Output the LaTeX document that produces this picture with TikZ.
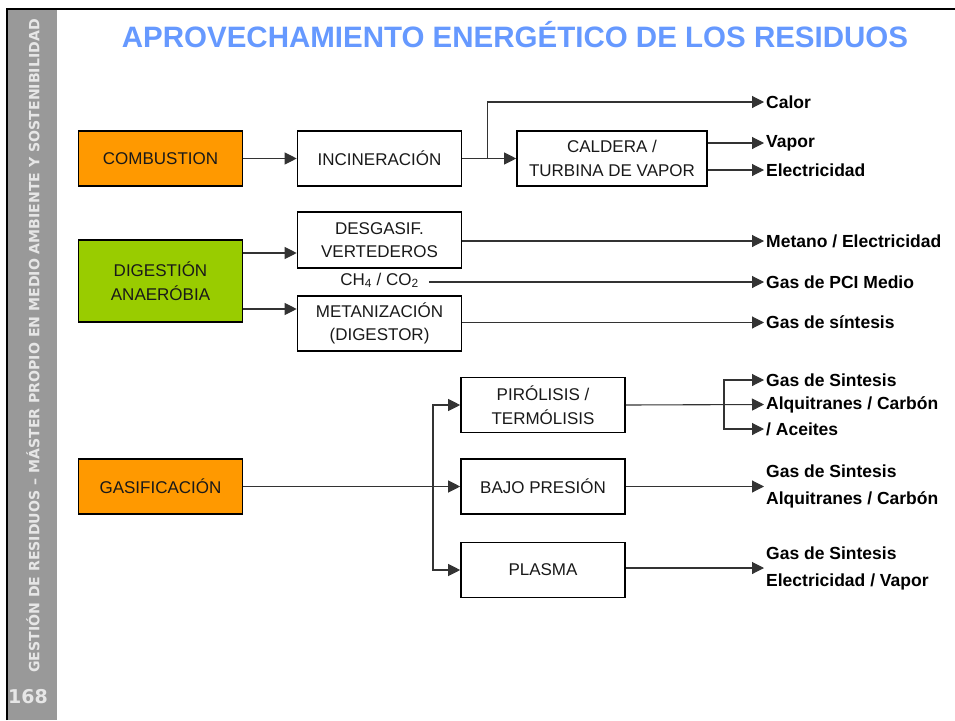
\documentclass[tikz,border=0pt]{standalone}
\usepackage{fontspec}
\setmainfont{Liberation Sans}
\newfontfamily\sidefont{DejaVu Sans}
\usetikzlibrary{arrows.meta}
\definecolor{titleblue}{RGB}{102,153,255}
\definecolor{burnorange}{RGB}{255,153,0}
\definecolor{digestgreen}{RGB}{153,204,0}
\definecolor{sidegray}{RGB}{153,153,153}
\definecolor{sidetext}{RGB}{230,230,230}

\begin{document}
\begin{tikzpicture}[x=1pt,y=-1pt,
  box/.style={draw=black,line width=1.6pt,minimum width=164pt,minimum height=55pt,inner sep=0pt,align=center,text=black!90,font=\fontsize{17}{23.5}\selectfont},
  source/.style={box,fill=burnorange},
  product/.style={anchor=west,inner sep=2pt,align=left,font=\bfseries\fontsize{17.5}{27}\selectfont},
  arrow/.style={-{Triangle[length=12pt,width=12pt]},line width=1.1pt,draw=black!80}
]
\useasboundingbox (0,0) rectangle (955,720);
% side band and frame
\fill[sidegray] (8,10) rectangle (57,720);
\draw[line width=2.5pt] (7,720) -- (7,9) -- (955,9);
\node[rotate=90,text=sidetext,font=\sidefont\bfseries\fontsize{14.1}{14}\selectfont] (band) at (33,346) {GESTIÓN DE RESIDUOS – MÁSTER PROPIO EN MEDIO AMBIENTE Y SOSTENIBILIDAD};
\node[text=sidetext,font=\sidefont\bfseries\fontsize{19}{19}\selectfont] (pagenum) at (28,697) {168};
\node[text=titleblue,font=\bfseries\fontsize{29.5}{29.5}\selectfont] (title) at (515,35) {APROVECHAMIENTO ENERGÉTICO DE LOS RESIDUOS};

% combustion
\node[source] (comb) at (160.5,158.5) {COMBUSTION};
\node[box] (incin) at (379.5,158.5) {INCINERACIÓN};
\node[box,minimum width=190pt] (cald) at (612,158.5) {CALDERA /\\TURBINA DE VAPOR};
\node[product] (calor) at (764,102) {Calor};
\node[product] (vapor) at (764,143) {Vapor};
\node[product] (elec) at (764,170) {Electricidad};
\coordinate (split) at (487.5,158.5);
\draw[arrow] (comb) -- (incin);
\draw[arrow] (incin) -- (cald);
\draw[arrow] (split) |- (calor.west);
\draw[arrow] (cald.east |- vapor.west) -- (vapor.west);
\draw[arrow] (cald.east |- elec.west) -- (elec.west);

% digestion
\node[source,fill=digestgreen,minimum height=82pt] (dig) at (160.5,281) {DIGESTIÓN\\ANAERÓBIA};
\node[box,minimum height=56pt] (desg) at (379.5,240) {DESGASIF.\\VERTEDEROS};
\node[box] (metan) at (379.5,323.5) {METANIZACIÓN\\(DIGESTOR)};
\node[text=black!90,inner sep=1pt,font=\fontsize{17}{17}\selectfont] (ch4) at (379.5,280.5) {CH\textsubscript{4} / CO\textsubscript{2}};
\node[product] (metano) at (764,241) {Metano / Electricidad};
\node[product] (pci) at (764,282) {Gas de PCI Medio};
\node[product] (sint) at (764,322.5) {Gas de síntesis};
\draw[arrow] ([yshift=-13pt]desg.west -| dig.east) -- ([yshift=-13pt]desg.west);
\draw[arrow] ([yshift=14.5pt]metan.west -| dig.east) -- ([yshift=14.5pt]metan.west);
\draw[arrow] (desg.east |- metano.west) -- (metano.west);
\draw[arrow] ([xshift=9pt]ch4.east |- pci.west) -- (pci.west);
\draw[arrow] (metan.east |- sint.west) -- (sint.west);

% gasification
\node[source] (gasif) at (160.5,486.5) {GASIFICACIÓN};
\node[box] (piro) at (543,405) {PIRÓLISIS /\\TERMÓLISIS};
\node[box] (bajo) at (543,486.5) {BAJO PRESIÓN};
\node[box] (plasma) at (543,570) {PLASMA};
\coordinate (fork) at (433,486.5);
\draw[arrow] (gasif) -- (bajo);
\draw[arrow] (fork) |- (piro.west);
\draw[arrow] (fork) |- (plasma.west);

\node[product] (gs1) at (764,380) {Gas de Sintesis};
\node[product] (alq1) at (764,404.5) {Alquitranes / Carbón};
\node[product] (ace) at (764,429) {/ Aceites};
\coordinate (pfork) at (724,405);
\draw[arrow] (piro.east) -- (alq1.west);
\draw[arrow] (pfork) |- (gs1.west);
\draw[arrow] (pfork) |- (ace.west);

\node[product] (bajoout) at (764,486.5) {Gas de Sintesis\\Alquitranes / Carbón};
\node[product] (plasmaout) at (764,568) {Gas de Sintesis\\Electricidad / Vapor};
\draw[arrow] (bajo.east) -- (bajoout.west);
\draw[arrow] (plasma.east |- plasmaout.west) -- (plasmaout.west);
\end{tikzpicture}
\end{document}
